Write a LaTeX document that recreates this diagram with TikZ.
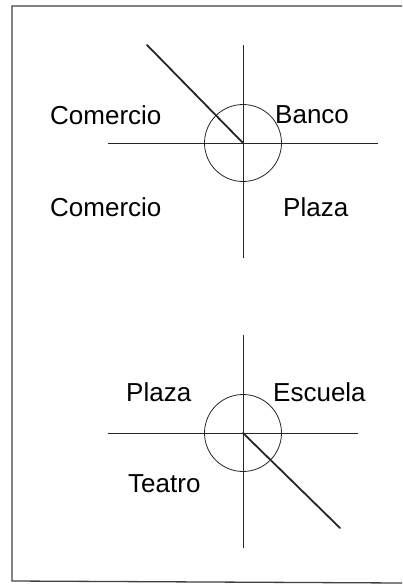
\documentclass[tikz,border=0pt]{standalone}
\usepackage{fontspec}
\setmainfont{Liberation Sans}
\usetikzlibrary{positioning}
\tikzset{
  streetlabel/.style={font=\fontsize{26}{30}\selectfont, inner sep=0pt, anchor=west},
  street/.style={line width=0.9pt, black!85},
  route/.style={line width=1.8pt, black!85, line cap=round},
  plazaring/.style={draw, circle, line width=0.8pt, black!85, minimum size=77pt, inner sep=0pt},
  framebar/.style={line width=1.3pt, black!75}
}

\begin{document}
\begin{tikzpicture}[x=1pt, y=1pt]
\useasboundingbox (0,0) rectangle (402,-586);

% frame (right side cut off)
\coordinate (fTL) at (12,-6);
\coordinate (fTR) at (402,-6);
\coordinate (fBL) at (12,-581);
\coordinate (fBR) at (402,-583);
\draw[framebar] (fTR) -- (fTL) -- (fBL) -- (fBR);

% upper crossing
\node[plazaring] (ringA) at (243,-143) {};
\coordinate (northA) at (243,-45);
\coordinate (southA) at (243,-258);
\coordinate (westA) at (108,-143);
\coordinate (eastA) at (378,-143);
\coordinate (routeA) at (147,-45);
\draw[street] (northA) -- (southA);
\draw[street] (westA) -- (eastA);
\draw[route] (routeA) -- (ringA.center);

\node[streetlabel] (comercioNW) at (50,-115) {Comercio};
\node[streetlabel] (bancoNE) at (275,-115) {Banco};
\node[streetlabel] (comercioSW) at (50,-207) {Comercio};
\node[streetlabel] (plazaSE) at (283,-207) {Plaza};

% lower crossing
\node[plazaring] (ringB) at (243,-433) {};
\coordinate (northB) at (243,-335);
\coordinate (southB) at (243,-548);
\coordinate (westB) at (108,-433);
\coordinate (eastB) at (358,-433);
\coordinate (routeB) at (340,-528);
\draw[street] (northB) -- (southB);
\draw[street] (westB) -- (eastB);
\draw[route] (ringB.center) -- (routeB);

\node[streetlabel] (plazaNW) at (126,-392) {Plaza};
\node[streetlabel] (escuelaNE) at (273,-392) {Escuela};
\node[streetlabel] (teatroSW) at (128,-484) {Teatro};
\end{tikzpicture}
\end{document}
